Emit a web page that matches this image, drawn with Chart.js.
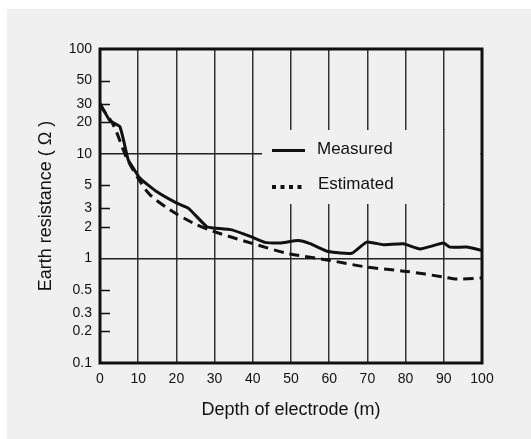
<!DOCTYPE html>
<html>
<head>
<meta charset="utf-8">
<script src="https://cdn.jsdelivr.net/npm/chart.js@4"></script>
<style>
  html, body { margin: 0; padding: 0; background: #fff; }
  #wrap { width: 531px; height: 439px; }
</style>
</head>
<body>
<div id="wrap"><canvas id="chart" width="531" height="439"></canvas></div>
<script>
// values
const measuredX = [0, 2.6, 5.2, 7.4, 8.7, 10.5, 14.8, 20.1, 23.1, 27.9, 29.7, 34.5, 39.3, 43.2, 47.1, 51.9, 55, 59.8, 65.9, 69.8, 74.2, 79.4, 83.8, 89.9, 91.6, 96, 100];
const measuredY = [30.3, 20.6, 18.1, 8.7, 7.3, 5.8, 4.35, 3.37, 3.02, 2.01, 1.95, 1.87, 1.62, 1.42, 1.40, 1.48, 1.38, 1.16, 1.12, 1.43, 1.35, 1.38, 1.23, 1.40, 1.28, 1.28, 1.19];
const estimatedX = [0, 3.5, 7, 10.5, 13.1, 18.3, 24.4, 29.7, 41, 48.9, 60.2, 69.8, 80.3, 89.9, 93.4, 100];
const estimatedY = [29, 18.8, 9.06, 5.42, 4.04, 2.91, 2.17, 1.81, 1.35, 1.12, 0.955, 0.826, 0.75, 0.664, 0.634, 0.649];
const yTicks = [100, 50, 30, 20, 10, 5, 3, 2, 1, 0.5, 0.3, 0.2, 0.1];
const yGridVals = [10, 1];
const seriesNames = ['Measured', 'Estimated'];

const BG = '#f0f0f0';
const INK = '#111';
const GRID = '#333';
const SANS = '"Liberation Sans", Arial, sans-serif';

const toPoints = (xs, ys) => xs.map((x, i) => ({x: x, y: ys[i]}));

// page background, frame, short inner ticks, legend box
const paperPlugin = {
  id: 'paper',
  beforeDraw(chart) {
    const ctx = chart.ctx;
    ctx.save();
    ctx.fillStyle = '#fff';
    ctx.fillRect(0, 0, chart.width, chart.height);
    ctx.fillStyle = BG;
    ctx.fillRect(7, 9, chart.width - 7, chart.height - 9);
    ctx.restore();
  },
  beforeDatasetsDraw(chart) {
    const ctx = chart.ctx;
    const a = chart.chartArea;
    const xs = chart.scales.x;
    const ys = chart.scales.y;
    ctx.save();
    // legend area hides the grid, only the 90 line runs through it
    ctx.fillStyle = BG;
    ctx.fillRect(262, 130, a.right - 1.5 - 262, 74);
    const x90 = xs.getPixelForValue(90);
    ctx.strokeStyle = GRID;
    ctx.lineWidth = 1.5;
    ctx.beginPath();
    ctx.moveTo(x90, 129);
    ctx.lineTo(x90, 205);
    ctx.stroke();
    // short ticks inside the left edge
    ctx.strokeStyle = INK;
    yTicks.filter(v => !yGridVals.includes(v) && v < 100 && v > 0.1).forEach(v => {
      const py = Math.round(ys.getPixelForValue(v)) + 0.5;
      ctx.beginPath();
      ctx.moveTo(a.left, py);
      ctx.lineTo(a.left + 10, py);
      ctx.stroke();
    });
    // legend
    ctx.lineWidth = 3;
    ctx.beginPath();
    ctx.moveTo(272, 150.5);
    ctx.lineTo(305, 150.5);
    ctx.stroke();
    ctx.fillStyle = INK;
    for (let i = 0; i < 4; i++) ctx.fillRect(272 + i * 8.5, 185, 4, 4);
    ctx.font = '17px ' + SANS;
    ctx.textBaseline = 'middle';
    ctx.textAlign = 'left';
    ctx.fillText(seriesNames[0], 317, 149);
    ctx.fillText(seriesNames[1], 318, 184);
    ctx.restore();
  },
  afterDraw(chart) {
    const ctx = chart.ctx;
    const a = chart.chartArea;
    ctx.save();
    ctx.strokeStyle = INK;
    ctx.lineWidth = 3;
    ctx.strokeRect(a.left, a.top, a.right - a.left, a.bottom - a.top);
    ctx.restore();
  }
};

new Chart(document.getElementById('chart'), {
  type: 'line',
  data: {
    datasets: [
      {
        label: seriesNames[0],
        data: toPoints(measuredX, measuredY),
        borderColor: INK,
        borderWidth: 3,
        pointRadius: 0,
        tension: 0.15
      },
      {
        label: seriesNames[1],
        data: toPoints(estimatedX, estimatedY),
        borderColor: INK,
        borderWidth: 3,
        borderDash: [10, 6],
        pointRadius: 0,
        tension: 0.3
      }
    ]
  },
  options: {
    responsive: false,
    animation: false,
    layout: { padding: { top: 49, right: 49, left: 0, bottom: 0 } },
    plugins: { legend: { display: false }, tooltip: { enabled: false } },
    scales: {
      x: {
        type: 'linear',
        min: 0,
        max: 100,
        afterFit(scale) { scale.height = 76; },
        ticks: { stepSize: 10, color: INK, padding: 8, maxRotation: 0, font: { family: SANS, size: 14 } },
        grid: { color: GRID, lineWidth: 1.5, drawTicks: false },
        border: { display: false },
        title: {
          display: true,
          text: 'Depth of electrode (m)',
          color: INK,
          font: { family: SANS, size: 18 },
          padding: { top: 0, bottom: 18 }
        }
      },
      y: {
        type: 'logarithmic',
        min: 0.1,
        max: 100,
        afterFit(scale) { scale.width = 100; },
        afterBuildTicks(scale) { scale.ticks = yTicks.map(v => ({value: v})); },
        ticks: {
          color: INK,
          padding: 8,
          font: { family: SANS, size: 14 },
          callback: v => String(v)
        },
        grid: {
          drawTicks: false,
          lineWidth: 1.5,
          color: c => yGridVals.includes(c.tick && c.tick.value) ? '#222' : 'rgba(0,0,0,0)'
        },
        border: { display: false },
        title: {
          display: true,
          text: 'Earth resistance ( Ω )',
          color: INK,
          font: { family: SANS, size: 18 },
          padding: { top: 35, bottom: 0 }
        }
      }
    }
  },
  plugins: [paperPlugin]
});
</script>
</body>
</html>
